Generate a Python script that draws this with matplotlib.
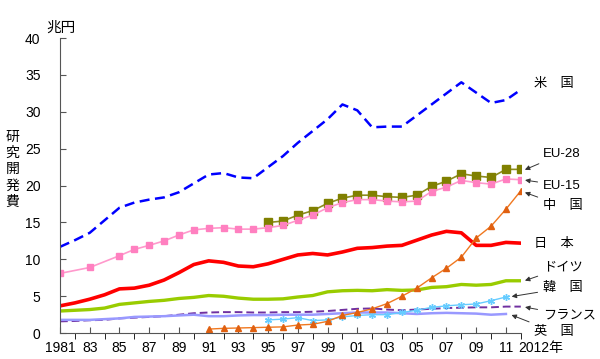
import numpy as np
import matplotlib.pyplot as plt

plt.rcParams['font.family'] = ['Liberation Sans', 'Noto Sans CJK JP']

years = np.arange(1981, 2013)

# 兆円 (None = no data)
us = [11.7, 12.6, 13.6, 15.3, 17.0, 17.7, 18.1, 18.4, 19.1, 20.3,
      21.5, 21.7, 21.1, 21.0, 22.5, 24.0, 25.8, 27.4, 29.0, 31.0,
      30.2, 27.9, 28.0, 28.0, 29.5, 31.0, 32.5, 34.0, 32.6, 31.2,
      31.6, 33.0]
eu15 = [8.1, None, 8.9, None, 10.5, 11.35, 11.9, 12.5, 13.3, 14.0,
        14.2, 14.3, 14.1, 14.1, 14.3, 14.6, 15.3, 16.0, 17.0, 17.7,
        18.1, 18.1, 17.9, 17.8, 17.9, 19.2, 19.8, 20.7, 20.4, 20.2,
        20.9, 20.8]
eu28 = [None] * 14 + [15.0, 15.2, 16.0, 16.6, 17.6, 18.3,
                      18.7, 18.7, 18.5, 18.4, 18.7, 19.9, 20.6, 21.6, 21.3, 21.1,
                      22.2, 22.2]
japan = [3.7, 4.1, 4.6, 5.2, 6.0, 6.1, 6.5, 7.2, 8.2, 9.3,
         9.8, 9.6, 9.1, 9.0, 9.4, 10.0, 10.6, 10.8, 10.6, 11.0,
         11.5, 11.6, 11.8, 11.9, 12.6, 13.3, 13.8, 13.6, 11.9, 11.9,
         12.3, 12.2]
germany = [3.0, 3.1, 3.2, 3.4, 3.9, 4.1, 4.3, 4.45, 4.7, 4.85,
           5.1, 5.0, 4.75, 4.6, 4.6, 4.65, 4.9, 5.1, 5.6, 5.75,
           5.8, 5.75, 5.9, 5.8, 5.85, 6.2, 6.3, 6.6, 6.5, 6.6,
           7.1, 7.1]
china = [None] * 10 + [0.55, 0.65, 0.7, 0.75, 0.8, 0.85, 1.1, 1.2, 1.6, 2.4,
                       2.8, 3.3, 4.0, 5.0, 6.1, 7.5, 8.8, 10.3, 12.9, 14.5,
                       16.8, 19.3]
korea = [None] * 14 + [1.8, 1.9, 2.1, 1.7, 1.8, 2.2,
                       2.4, 2.5, 2.5, 2.8, 3.1, 3.5, 3.7, 3.85, 3.95, 4.4,
                       4.9, None]
france = [1.6, 1.65, 1.75, 1.8, 2.0, 2.1, 2.2, 2.3, 2.5, 2.7,
          2.8, 2.85, 2.85, 2.8, 2.8, 2.85, 2.85, 2.9, 3.0, 3.15,
          3.3, 3.35, 3.2, 3.1, 3.2, 3.3, 3.4, 3.45, 3.5, 3.5,
          3.6, 3.6]
uk = [1.8, 1.8, 1.8, 1.9, 2.0, 2.2, 2.25, 2.3, 2.4, 2.5,
      2.3, 2.3, 2.4, 2.45, 2.45, 2.5, 2.5, 2.5, 2.6, 2.7,
      2.8, 2.8, 2.8, 2.7, 2.6, 2.7, 2.75, 2.7, 2.65, 2.5,
      2.6, None]


def arr(v):
    return np.array([np.nan if x is None else x for x in v], dtype=float)


def connected(v):
    a = arr(v)
    m = ~np.isnan(a)
    return years[m], a[m]


fig = plt.figure(figsize=(6, 3.59), dpi=100)
ax = fig.add_axes([0.1, 0.072, 0.768, 0.822])

ax.plot(years, arr(us), color='#0000FF', lw=1.8, dashes=(4, 2.2))
x, y = connected(eu28)
ax.plot(x, y, color='#8C8C1E', lw=1.2, marker='s', ms=6, mfc='#808000', mec='#808000')
x, y = connected(eu15)
ax.plot(x, y, color='#FF99CC', lw=1.2, marker='s', ms=5, mfc='#FF80C0', mec='#FF80C0')
ax.plot(years, arr(japan), color='#FF0000', lw=2.6)
ax.plot(years, arr(germany), color='#99CC00', lw=2.4)
ax.plot(years, arr(france), color='#7030A0', lw=1.4, dashes=(4, 2))
ax.plot(years, arr(uk), color='#9999FF', lw=1.8)
ax.plot(years, arr(korea), color='#66CCFF', lw=1.0, marker=(6, 2, 0), ms=5, mew=1.0)
ax.plot(years, arr(china), color='#F07820', lw=1.0, marker='^', ms=4, mfc='#E06010', mec='#E06010')

ax.set_xlim(1981, 2012)
ax.set_ylim(0, 40)
ax.set_yticks(np.arange(0, 41, 5))
ax.set_xticks(np.arange(1981, 2013, 2))
ax.set_xticks(years, minor=True)
xlabels = ['1981'] + ['%02d' % (y % 100) for y in range(1983, 2012, 2)]
ax.set_xticklabels(xlabels)
ax.spines['top'].set_visible(False)
ax.spines['right'].set_visible(False)
for s in ('left', 'bottom'):
    ax.spines[s].set_color('#555555')
ax.tick_params(axis='both', direction='in', labelsize=10, color='#555555')
ax.tick_params(axis='x', which='both', length=4, pad=6)
ax.tick_params(axis='y', length=4, pad=14)

ax.annotate('2012年', xy=(2011.85, 0), xycoords=('data', 'axes fraction'),
            xytext=(0, -6), textcoords='offset points', ha='left', va='top',
            fontsize=10, annotation_clip=False)
ax.text(1980.1, 40.4, '兆円', ha='left', va='bottom', fontsize=10.5, clip_on=False)
ax.text(-0.103, 0.555, '研\n究\n開\n発\n費', transform=ax.transAxes, ha='center', va='center',
        fontsize=10, linespacing=1.2)

lbl = dict(fontsize=9.5, ha='left', va='center', annotation_clip=False)
arrow = dict(arrowstyle='-|>', color='#333333', lw=0.7, mutation_scale=7)
ax.annotate('米　国', xy=(2012.9, 33.8), **lbl)
ax.annotate('EU-28', xy=(2012.1, 22.0), xytext=(2013.5, 24.3), arrowprops=arrow, **lbl)
ax.annotate('EU-15', xy=(2012.1, 20.8), xytext=(2013.5, 20.0), arrowprops=arrow, **lbl)
ax.annotate('中　国', xy=(2012.1, 19.2), xytext=(2013.5, 17.2), arrowprops=arrow, **lbl)
ax.annotate('日　本', xy=(2012.9, 12.1), **lbl)
ax.annotate('ドイツ', xy=(2012.1, 7.0), xytext=(2013.5, 8.9), arrowprops=arrow, **lbl)
ax.annotate('韓　国', xy=(2011.2, 4.9), xytext=(2013.5, 6.1), arrowprops=arrow, **lbl)
ax.annotate('フランス', xy=(2012.1, 3.6), xytext=(2013.5, 2.4), arrowprops=arrow, **lbl)
ax.annotate('英　国', xy=(2011.2, 2.6), xytext=(2012.9, 0.2), arrowprops=arrow, **lbl)

fig.savefig('out.png', dpi=100)
